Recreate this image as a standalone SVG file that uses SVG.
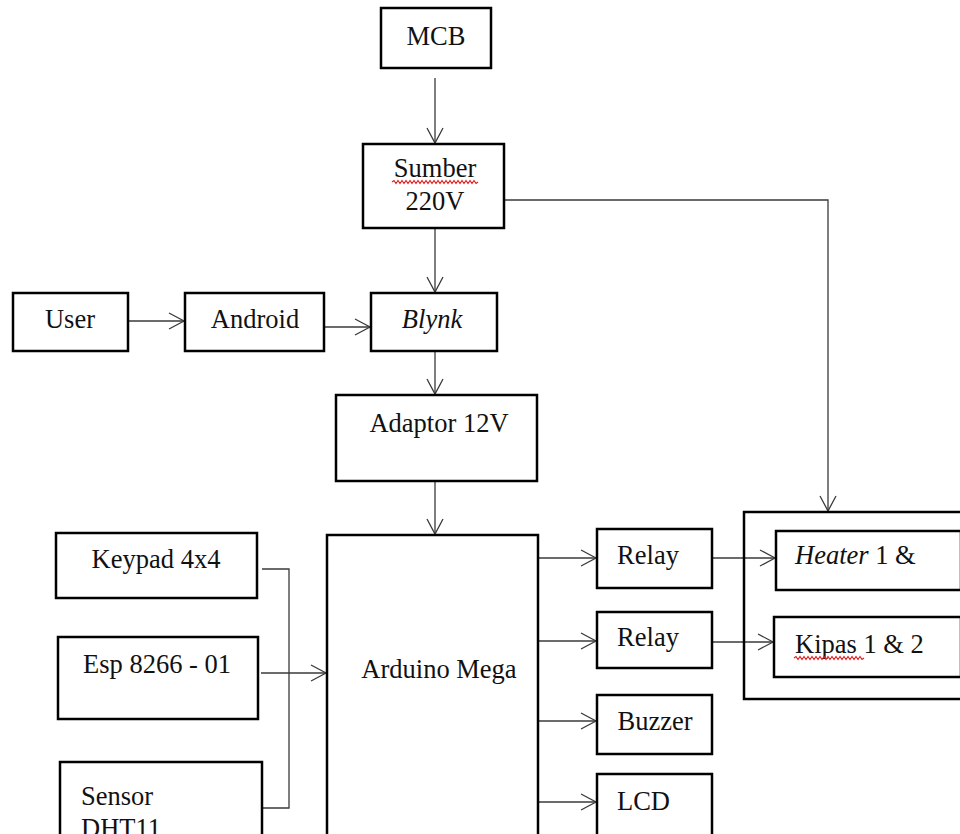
<svg xmlns="http://www.w3.org/2000/svg" width="960" height="834" viewBox="0 0 960 834">
<style>
  .box{fill:#fff;stroke:#000;stroke-width:2.5}
  .frame{fill:none;stroke:#000;stroke-width:2.5}
  .t{font-family:"Liberation Serif","Times New Roman",serif;font-size:26.5px;fill:#111}
  .m{text-anchor:middle}
  .c{fill:none;stroke:#3a3a3a;stroke-width:1.3}
  .a{marker-end:url(#arr)}
  .w{fill:none;stroke:#e02020;stroke-width:1.2}
</style>
<defs>
  <marker id="arr" markerUnits="userSpaceOnUse" markerWidth="17" markerHeight="18" refX="15" refY="8" orient="auto" overflow="visible">
    <path d="M0,0 L15,8 L0,16" fill="none" stroke="#3a3a3a" stroke-width="1.3"/>
  </marker>
  <clipPath id="hclip"><rect x="777" y="532" width="183" height="56"/></clipPath>
</defs>
<rect width="960" height="834" fill="#fff"/>

<g id="connectors">
  <line class="c a" x1="435" y1="78" x2="435" y2="143"/>
  <line class="c a" x1="435" y1="228" x2="435" y2="292"/>
  <polyline class="c a" points="505,200 828,200 828,511"/>
  <line class="c a" x1="128" y1="321" x2="184" y2="321"/>
  <line class="c a" x1="322" y1="327" x2="370" y2="327"/>
  <line class="c a" x1="435" y1="352" x2="435" y2="394"/>
  <line class="c a" x1="435" y1="482" x2="435" y2="534"/>
  <polyline class="c" points="262,569 289,569 289,808 262,808"/>
  <line class="c a" x1="261" y1="673" x2="326" y2="673"/>
  <line class="c a" x1="539" y1="558" x2="596" y2="558"/>
  <line class="c a" x1="539" y1="641" x2="596" y2="641"/>
  <line class="c a" x1="539" y1="721" x2="596" y2="721"/>
  <line class="c a" x1="539" y1="802" x2="596" y2="802"/>
  <line class="c a" x1="713" y1="558" x2="775" y2="558"/>
  <line class="c a" x1="713" y1="642" x2="773" y2="642"/>
</g>

<g id="mcb">
  <rect class="box" x="381" y="8" width="110" height="60"/>
  <text class="t m" x="436" y="45">MCB</text>
</g>
<g id="sumber">
  <rect class="box" x="363" y="144" width="141" height="84"/>
  <text class="t m" x="435" y="177">Sumber</text>
  <path class="w" d="M392,182 l2,-1.5 l2,3 l2,-3 l2,3 l2,-3 l2,3 l2,-3 l2,3 l2,-3 l2,3 l2,-3 l2,3 l2,-3 l2,3 l2,-3 l2,3 l2,-3 l2,3 l2,-3 l2,3 l2,-3 l2,3 l2,-3 l2,3 l2,-3 l2,3 l2,-3 l2,3 l2,-3 l2,3 l2,-3 l2,3 l2,-3 l2,3 l2,-3 l2,3 l2,-3 l2,3 l2,-3 l2,3 l2,-3 l2,3 l2,-1.5"/>
  <text class="t m" x="435" y="210">220V</text>
</g>
<g id="user">
  <rect class="box" x="13" y="293" width="115" height="58"/>
  <text class="t m" x="70" y="328">User</text>
</g>
<g id="android">
  <rect class="box" x="185" y="293" width="139" height="58"/>
  <text class="t m" x="255" y="328">Android</text>
</g>
<g id="blynk">
  <rect class="box" x="371" y="293" width="126" height="58"/>
  <text class="t m" x="432" y="328" font-style="italic">Blynk</text>
</g>
<g id="adaptor">
  <rect class="box" x="336" y="395" width="201" height="86"/>
  <text class="t m" x="439" y="432">Adaptor 12V</text>
</g>
<g id="keypad">
  <rect class="box" x="56" y="533" width="201" height="65"/>
  <text class="t m" x="156" y="568">Keypad 4x4</text>
</g>
<g id="esp">
  <rect class="box" x="58" y="637" width="200" height="82"/>
  <text class="t m" x="157" y="673">Esp 8266 - 01</text>
</g>
<g id="sensor">
  <rect class="box" x="60" y="762" width="202" height="90"/>
  <text class="t" x="81" y="805">Sensor</text>
  <text class="t" x="81" y="837">DHT11</text>
</g>
<g id="arduino">
  <rect class="box" x="327" y="535" width="211" height="320"/>
  <text class="t m" x="439" y="678">Arduino Mega</text>
</g>
<g id="relay1">
  <rect class="box" x="597" y="529" width="115" height="59"/>
  <text class="t m" x="648" y="564">Relay</text>
</g>
<g id="relay2">
  <rect class="box" x="597" y="612" width="115" height="56"/>
  <text class="t m" x="648" y="646">Relay</text>
</g>
<g id="buzzer">
  <rect class="box" x="597" y="695" width="115" height="59"/>
  <text class="t m" x="655" y="730">Buzzer</text>
</g>
<g id="lcd">
  <rect class="box" x="597" y="774" width="115" height="70"/>
  <text class="t" x="617" y="810">LCD</text>
</g>
<g id="loads">
  <rect class="frame" x="744" y="512" width="220" height="187"/>
</g>
<g id="heater">
  <rect class="box" x="776" y="531" width="185" height="59"/>
  <text class="t" x="795" y="564"><tspan font-style="italic">Heater</tspan> 1 &amp;</text>
  <text class="t" x="795" y="607" clip-path="url(#hclip)">2</text>
</g>
<g id="kipas">
  <rect class="box" x="774" y="617" width="187" height="60"/>
  <text class="t" x="795" y="653">Kipas 1 &amp; 2</text>
  <path class="w" d="M794,658 l2,-1.5 l2,3 l2,-3 l2,3 l2,-3 l2,3 l2,-3 l2,3 l2,-3 l2,3 l2,-3 l2,3 l2,-3 l2,3 l2,-3 l2,3 l2,-3 l2,3 l2,-3 l2,3 l2,-3 l2,3 l2,-3 l2,3 l2,-3 l2,3 l2,-3 l2,3 l2,-3 l2,3 l2,-3 l2,3 l2,-3 l2,3 l2,-1.5"/>
</g>
</svg>
